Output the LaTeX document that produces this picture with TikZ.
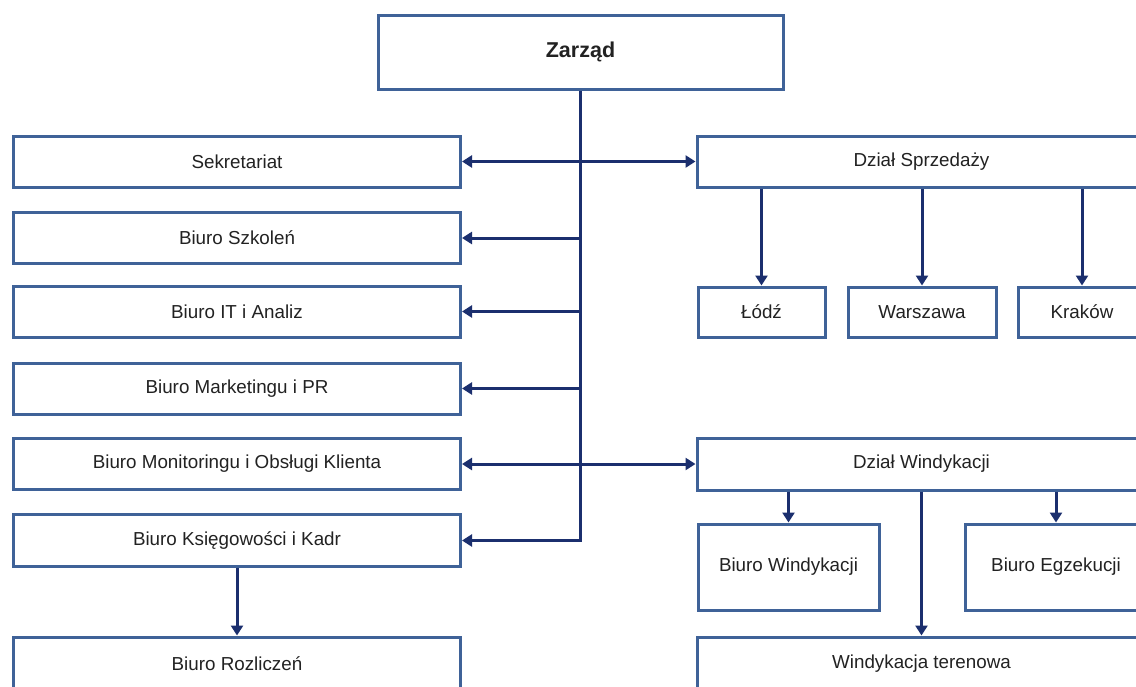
\documentclass[tikz,border=0pt]{standalone}
\usepackage{fontspec}
\setmainfont{Liberation Sans}
\usetikzlibrary{arrows.meta}
\definecolor{boxblue}{HTML}{3F6298}
\definecolor{arrblue}{HTML}{1B2F6E}
\definecolor{txt}{HTML}{222222}
\begin{document}
\begin{tikzpicture}[x=1pt,y=-1pt,
  box/.style={draw=boxblue, line width=3pt, fill=white, inner sep=0pt,
    font=\fontsize{18.8}{22}\selectfont, text=txt},
  conn/.style={draw=arrblue, line width=3pt, -{Triangle[length=10pt,width=12pt]}},
  conntwo/.style={draw=arrblue, line width=3pt, {Triangle[length=10pt,width=12pt]}-{Triangle[length=10pt,width=12pt]}},
]
\useasboundingbox (0,0) rectangle (1136,686);
\clip (0,0) rectangle (1136,686);
\fill[white] (0,0) rectangle (1136,686);

% top
\node[box, minimum width=405pt, minimum height=74pt, font=\fontsize{21.5}{24}\selectfont\bfseries] (zarzad) at (580.5,52) {Zarząd};

% left column
\node[box, minimum width=447pt, minimum height=51pt] (sek) at (237,161.5) {Sekretariat};
\node[box, minimum width=447pt, minimum height=51pt] (szk) at (237,238) {Biuro Szkoleń};
\node[box, minimum width=447pt, minimum height=51pt] (it) at (237,311.5) {Biuro IT i Analiz};
\node[box, minimum width=447pt, minimum height=51pt] (mkt) at (237,388.5) {Biuro Marketingu i PR};
\node[box, minimum width=447pt, minimum height=51pt] (mon) at (237,464) {Biuro Monitoringu i Obsługi Klienta};
\node[box, minimum width=447pt, minimum height=52pt] (ksi) at (237,540.5) {Biuro Księgowości i Kadr};
\node[box, minimum width=447pt, minimum height=53pt] (roz) at (237,663.5) {Biuro Rozliczeń};

% right column
\node[box, minimum width=449pt, minimum height=51pt] (sprz) at (921.5,161.5) {Dział Sprzedaży};
\node[box, minimum width=127pt, minimum height=50pt] (lodz) at (761.5,312) {Łódź};
\node[box, minimum width=148pt, minimum height=50pt] (wars) at (922,312) {Warszawa};
\node[box, minimum width=128pt, minimum height=50pt] (krak) at (1082,312) {Kraków};

\node[box, minimum width=449pt, minimum height=52pt] (wind) at (921.5,464) {Dział Windykacji};
\node[box, minimum width=181pt, minimum height=86pt] (bw) at (788.5,567) {Biuro Windykacji};
\node[box, minimum width=182pt, minimum height=86pt] (be) at (1056,567) {Biuro Egzekucji};
\node[box, minimum width=449pt, minimum height=53pt] (wt) at (921.5,663.5) {Windykacja terenowa};

% trunk
\draw[conn] (zarzad.south) |- (ksi.east);
\coordinate (trunk) at (zarzad.south);
\draw[conntwo] (sek.east) -- (sprz.west);
\draw[conn] (trunk |- szk.east) -- (szk.east);
\draw[conn] (trunk |- it.east) -- (it.east);
\draw[conn] (trunk |- mkt.east) -- (mkt.east);
\draw[conntwo] (mon.east) -- (wind.west);
\draw[conn] (ksi.south) -- (roz.north);

% sales
\draw[conn] (sprz.south -| lodz.north) -- (lodz.north);
\draw[conn] (sprz.south -| wars.north) -- (wars.north);
\draw[conn] (sprz.south -| krak.north) -- (krak.north);

% debt collection
\draw[conn] (wind.south -| bw.north) -- (bw.north);
\draw[conn] (wind.south -| be.north) -- (be.north);
\draw[conn] (wind.south -| wt.north) -- (wt.north);
\end{tikzpicture}
\end{document}
